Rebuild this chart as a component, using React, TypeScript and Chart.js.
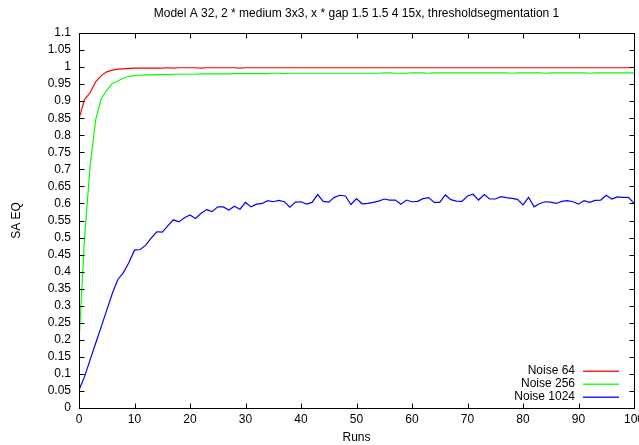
import React, { useEffect, useRef } from "react";
import { Chart, registerables } from "chart.js";

Chart.register(...registerables);

const TITLE = "Model A 32, 2 * medium 3x3, x * gap 1.5 1.5 4 15x, thresholdsegmentation 1";
const X_TITLE = "Runs";
const Y_TITLE = "SA EQ";

const runs = Array.from({ length: 101 }, (_, i) => i);

const noise64 = [
  0.848, 0.905, 0.925, 0.957, 0.975, 0.986, 0.991, 0.994, 0.995, 0.996,
  0.997, 0.997, 0.997, 0.997, 0.997, 0.997, 0.998, 0.997, 0.998, 0.998,
  0.998, 0.998, 0.997, 0.998, 0.998, 0.998, 0.998, 0.998, 0.998, 0.997,
  0.998, 0.998, 0.998, 0.998, 0.998, 0.998, 0.998, 0.998, 0.998, 0.998,
  0.998, 0.998, 0.998, 0.998, 0.998, 0.998, 0.998, 0.998, 0.998, 0.998,
  0.998, 0.998, 0.998, 0.998, 0.998, 0.998, 0.998, 0.998, 0.998, 0.998,
  0.998, 0.998, 0.998, 0.998, 0.998, 0.998, 0.998, 0.998, 0.998, 0.998,
  0.998, 0.998, 0.998, 0.998, 0.998, 0.998, 0.998, 0.998, 0.998, 0.998,
  0.998, 0.998, 0.998, 0.998, 0.998, 0.998, 0.998, 0.998, 0.998, 0.998,
  0.998, 0.998, 0.998, 0.998, 0.998, 0.998, 0.998, 0.998, 0.998, 0.998,
  0.999,
];

const noise256 = [
  0.19, 0.5, 0.71, 0.845, 0.907, 0.932, 0.952, 0.959, 0.968, 0.973,
  0.975, 0.976, 0.977, 0.977, 0.978, 0.978, 0.978, 0.979, 0.979, 0.979,
  0.979, 0.979, 0.98, 0.98, 0.98, 0.98, 0.98, 0.98, 0.981, 0.981,
  0.981, 0.981, 0.981, 0.981, 0.981, 0.982, 0.982, 0.981, 0.982, 0.982,
  0.982, 0.982, 0.982, 0.982, 0.982, 0.982, 0.982, 0.982, 0.982, 0.982,
  0.982, 0.982, 0.982, 0.982, 0.982, 0.983, 0.983, 0.982, 0.982, 0.982,
  0.983, 0.983, 0.983, 0.982, 0.983, 0.983, 0.983, 0.983, 0.983, 0.983,
  0.983, 0.983, 0.983, 0.983, 0.983, 0.983, 0.983, 0.983, 0.982, 0.983,
  0.983, 0.983, 0.983, 0.983, 0.982, 0.983, 0.983, 0.983, 0.983, 0.983,
  0.983, 0.983, 0.982, 0.983, 0.983, 0.983, 0.983, 0.983, 0.983, 0.983,
  0.983,
];

const noise1024 = [
  0.053, 0.092, 0.141, 0.19, 0.238, 0.287, 0.336, 0.377, 0.397, 0.427,
  0.463, 0.465, 0.477, 0.498, 0.517, 0.516, 0.534, 0.552, 0.546, 0.558,
  0.566, 0.556, 0.571, 0.582, 0.576, 0.59, 0.59, 0.581, 0.592, 0.583,
  0.603, 0.59, 0.598, 0.6, 0.608, 0.605, 0.609, 0.605, 0.589, 0.604,
  0.605, 0.598, 0.603, 0.626, 0.606, 0.604, 0.618, 0.624, 0.622, 0.597,
  0.614, 0.599, 0.6, 0.603, 0.607, 0.613, 0.61, 0.61, 0.598, 0.61,
  0.605, 0.606, 0.614, 0.617, 0.603, 0.603, 0.625, 0.611, 0.607, 0.606,
  0.622, 0.627, 0.61, 0.626, 0.613, 0.613, 0.62, 0.617, 0.615, 0.612,
  0.596, 0.618, 0.59, 0.6, 0.605, 0.604, 0.6, 0.606, 0.608, 0.605,
  0.598, 0.608, 0.603, 0.609, 0.61, 0.624, 0.613, 0.619, 0.618, 0.618,
  0.6,
];

const seriesLabels = ["Noise 64", "Noise 256", "Noise 1024"];
const seriesColors = ["#ff0000", "#00ff00", "#0000ff"];
const seriesValues = [noise64, noise256, noise1024];

const xTickValues = [0, 10, 20, 30, 40, 50, 60, 70, 80, 90, 100];
const X_MIN = 0;
const X_MAX = 100;
const Y_MIN = 0;
const Y_MAX = 1.1;
const Y_STEP = 0.05;

const FONT = '"Liberation Sans", Arial, Helvetica, sans-serif';

const gnuplotFrame = {
  id: "gnuplotFrame",
  afterDraw(chart: any) {
    const { ctx, chartArea: a, scales } = chart;
    const L = Math.round(a.left) + 0.5;
    const R = Math.round(a.right) + 0.5;
    const T = Math.round(a.top) + 0.5;
    const B = Math.round(a.bottom) + 0.5;
    ctx.save();
    ctx.strokeStyle = "#000";
    ctx.lineWidth = 1;
    ctx.beginPath();
    const tl = 5;
    scales.x.ticks.forEach((t: any) => {
      const px = Math.round(scales.x.getPixelForValue(t.value)) + 0.5;
      ctx.moveTo(px, B);
      ctx.lineTo(px, B - tl);
      ctx.moveTo(px, T);
      ctx.lineTo(px, T + tl);
    });
    scales.y.ticks.forEach((t: any) => {
      const py = Math.round(scales.y.getPixelForValue(t.value)) + 0.5;
      ctx.moveTo(L, py);
      ctx.lineTo(L + tl, py);
      ctx.moveTo(R, py);
      ctx.lineTo(R - tl, py);
    });
    ctx.stroke();
    ctx.strokeRect(L, T, R - L, B - T);

    // title
    ctx.fillStyle = "#000";
    ctx.font = "12px " + FONT;
    ctx.textAlign = "center";
    ctx.textBaseline = "middle";
    ctx.fillText(TITLE, (a.left + a.right) / 2, 14);

    // legend
    ctx.textAlign = "right";
    seriesLabels.forEach((label, i) => {
      const y = a.bottom - 37 + i * 12.8;
      ctx.fillStyle = "#000";
      ctx.fillText(label, a.right - 59, y);
      ctx.globalAlpha = 0.85;
      ctx.fillStyle = seriesColors[i];
      ctx.fillRect(Math.round(a.right - 51), Math.round(y) - 0.5, 36, 1.5);
      ctx.globalAlpha = 1;
    });
    ctx.restore();
  },
};

export default function App() {
  const ref = useRef<HTMLCanvasElement | null>(null);

  useEffect(() => {
    document.body.style.margin = "0";
    const canvas = ref.current;
    if (!canvas) return;
    const chart = new Chart(canvas, {
      type: "line",
      data: {
        datasets: seriesValues.map((vals, i) => ({
          label: seriesLabels[i],
          data: vals.map((y, j) => ({ x: runs[j], y })),
          borderColor: seriesColors[i],
          backgroundColor: seriesColors[i],
          borderWidth: 1.2,
          pointRadius: 0,
          tension: 0,
          fill: false,
        })),
      },
      options: {
        responsive: false,
        animation: false,
        devicePixelRatio: 1,
        layout: { padding: { left: 0, top: 33, right: 26, bottom: 0 } },
        plugins: {
          legend: { display: false },
          title: { display: false },
          tooltip: { enabled: false },
        },
        scales: {
          x: {
            type: "linear",
            min: X_MIN,
            max: X_MAX,
            afterFit: (s: any) => {
              s.height = 37;
            },
            afterBuildTicks: (s: any) => {
              s.ticks = xTickValues.map((v) => ({ value: v }));
            },
            grid: { display: false, drawTicks: false },
            border: { display: false },
            ticks: {
              autoSkip: false,
              maxRotation: 0,
              padding: 4,
              color: "#000",
              font: { family: FONT, size: 12 },
              callback: (v: any) => String(v),
            },
            title: {
              display: true,
              text: X_TITLE,
              color: "#000",
              font: { family: FONT, size: 12 },
              padding: { top: 0, bottom: 0 },
            },
          },
          y: {
            type: "linear",
            min: Y_MIN,
            max: Y_MAX,
            afterFit: (s: any) => {
              s.width = 79;
            },
            grid: { display: false, drawTicks: false },
            border: { display: false },
            ticks: {
              stepSize: Y_STEP,
              autoSkip: false,
              padding: 8,
              color: "#000",
              font: { family: FONT, size: 12 },
              callback: (v: any) => String(parseFloat(Number(v).toFixed(2))),
            },
            title: {
              display: true,
              text: Y_TITLE,
              color: "#000",
              font: { family: FONT, size: 12 },
              padding: { top: 9, bottom: 0 },
            },
          },
        },
      },
      plugins: [gnuplotFrame],
    } as any);
    return () => chart.destroy();
  }, []);

  return (
    <div style={{ width: 639, height: 445, overflow: "hidden", position: "relative", background: "#fff" }}>
      <canvas ref={ref} width={660} height={445} style={{ width: 660, height: 445, display: "block" }} />
    </div>
  );
}
